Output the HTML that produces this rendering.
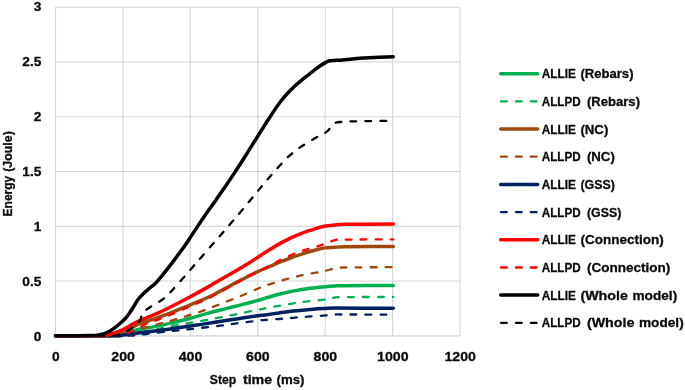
<!DOCTYPE html>
<html lang="en"><head><meta charset="utf-8"><title>Energy vs step time</title>
<style>html,body{margin:0;padding:0;background:#fff}body{width:685px;height:390px;overflow:hidden}svg{display:block}text{font-family:"Liberation Sans",sans-serif;font-weight:bold;font-size:13.7px;fill:#0a0a0a;stroke:#0a0a0a;stroke-width:.3px}.g{stroke:#d6d6d6;stroke-width:1.15;fill:none}.s{fill:none;stroke-linecap:round;stroke-linejoin:round}</style></head><body>
<svg width="685" height="390" viewBox="0 0 685 390">
<rect width="685" height="390" fill="#fff"/>
<path class="g" d="M55.5 7.2 V335.8M122.9 7.2 V335.8M190.3 7.2 V335.8M257.8 7.2 V335.8M325.2 7.2 V335.8M392.6 7.2 V335.8M460.0 7.2 V335.8M55.5 335.8 H460.0M55.5 281.0 H460.0M55.5 226.3 H460.0M55.5 171.5 H460.0M55.5 116.7 H460.0M55.5 62.0 H460.0M55.5 7.2 H460.0"/>
<path class="s" stroke="#00b050" stroke-width="3.5" d="M55.5 335.8C65.4 335.8 103.4 336.1 115.0 335.8C125.0 335.5 121.2 334.9 125.0 333.8C128.8 332.8 133.5 330.6 138.0 329.5C142.5 328.4 146.7 328.1 152.0 327.1C157.3 326.1 163.6 324.8 170.0 323.4C176.4 321.9 184.4 319.8 190.3 318.3C196.2 316.7 201.4 315.1 205.5 313.9C209.6 312.8 211.6 312.2 215.0 311.3C218.4 310.4 222.4 309.5 226.0 308.6C229.6 307.7 233.1 306.8 236.5 306.0C239.9 305.1 242.9 304.4 246.5 303.5C250.1 302.5 254.7 301.3 257.8 300.4C260.9 299.6 262.1 299.1 265.0 298.3C267.9 297.4 272.0 296.2 275.0 295.3C278.0 294.5 280.0 294.0 283.0 293.3C286.0 292.6 289.1 291.8 293.2 291.1C297.2 290.3 301.9 289.5 307.3 288.8C312.7 288.0 321.1 287.2 325.7 286.7C330.3 286.2 331.8 286.1 335.0 285.9C338.2 285.7 335.3 285.8 345.0 285.7C354.7 285.6 385.2 285.6 393.3 285.6"/>
<path class="s" stroke="#00b050" stroke-width="2.3" stroke-dasharray="5.8 9.1" stroke-dashoffset="1.8" d="M55.5 335.8C66.2 335.8 106.8 336.2 120.0 335.8C133.2 335.4 130.0 334.4 135.0 333.5C140.0 332.6 144.2 331.7 150.0 330.5C155.8 329.3 163.3 327.9 170.0 326.6C176.7 325.3 182.8 324.2 190.3 322.9C197.8 321.5 207.3 319.8 215.0 318.4C222.7 317.0 229.4 315.7 236.5 314.2C243.6 312.8 253.1 310.7 257.8 309.8C262.6 308.8 261.4 309.0 265.0 308.3C268.6 307.7 274.4 306.6 279.1 305.8C283.8 305.0 288.5 304.2 293.2 303.4C297.9 302.7 301.9 302.1 307.3 301.4C312.7 300.8 321.1 300.1 325.7 299.4C330.3 298.7 331.8 297.9 335.0 297.5C338.2 297.1 335.3 297.2 345.0 297.1C354.7 297.0 385.2 297.0 393.3 297.0"/>
<path class="s" stroke="#9e480e" stroke-width="3.5" d="M55.5 335.8C63.8 335.8 95.1 336.1 105.0 335.8C114.9 335.5 111.7 334.9 115.0 334.0C118.3 333.1 120.8 332.2 125.0 330.5C129.2 328.8 135.9 325.3 140.4 323.5C144.9 321.7 147.1 321.5 152.0 319.7C156.9 318.0 163.6 315.6 170.0 313.1C176.4 310.6 184.4 307.2 190.3 304.8C196.2 302.3 201.4 300.3 205.5 298.5C209.6 296.7 211.6 295.7 215.0 294.0C218.4 292.3 222.4 290.0 226.0 288.0C229.6 286.1 233.1 284.2 236.5 282.4C239.9 280.6 242.9 279.0 246.5 277.2C250.1 275.5 254.7 273.1 257.8 271.7C260.9 270.2 262.1 269.7 265.0 268.5C267.9 267.2 272.0 265.5 275.0 264.2C278.0 263.0 278.7 262.5 283.0 260.9C287.3 259.2 294.9 256.2 300.9 254.3C306.9 252.3 314.8 250.2 318.9 249.1C323.0 248.0 322.8 248.1 325.5 247.8C328.2 247.5 331.8 247.5 335.0 247.3C338.2 247.1 335.3 247.0 345.0 246.8C354.7 246.7 385.2 246.5 393.3 246.4"/>
<path class="s" stroke="#9e480e" stroke-width="2.3" stroke-dasharray="5.8 9.1" stroke-dashoffset="1.8" d="M55.5 335.8C65.4 335.8 102.6 336.3 115.0 335.8C127.4 335.3 124.8 334.4 130.0 333.0C135.2 331.6 140.8 328.9 146.0 327.3C151.2 325.7 157.0 324.4 161.0 323.4C165.0 322.3 165.1 322.3 170.0 320.9C174.9 319.5 184.4 316.8 190.3 314.9C196.2 313.1 201.4 311.3 205.5 309.8C209.6 308.3 211.6 307.4 215.0 306.1C218.4 304.8 222.4 303.2 226.0 301.8C229.6 300.4 233.1 299.1 236.5 297.7C239.9 296.3 242.9 295.1 246.5 293.6C250.1 292.1 254.7 290.0 257.8 288.7C260.9 287.4 262.1 286.8 265.0 285.8C267.9 284.8 272.0 283.5 275.0 282.5C278.0 281.6 278.8 281.2 283.0 280.1C287.2 279.0 294.3 277.1 300.3 275.7C306.3 274.4 314.7 272.9 318.9 272.1C323.1 271.3 322.9 271.4 325.6 270.8C328.3 270.2 331.8 268.9 335.0 268.3C338.2 267.8 335.3 267.7 345.0 267.5C354.7 267.3 385.2 267.2 393.3 267.2"/>
<path class="s" stroke="#002060" stroke-width="3.5" d="M55.5 335.8C65.9 335.8 106.8 335.9 118.0 335.8C123.0 335.7 120.2 335.4 123.0 335.0C125.8 334.6 131.2 334.0 135.0 333.5C138.8 333.0 142.3 332.5 146.0 332.0C149.7 331.5 153.0 331.2 157.0 330.7C161.0 330.2 164.4 329.8 170.0 329.0C175.6 328.3 182.8 327.3 190.3 326.1C197.8 325.0 207.3 323.5 215.0 322.3C222.7 321.1 229.4 320.0 236.5 318.9C243.6 317.8 253.1 316.5 257.8 315.8C262.6 315.2 261.4 315.4 265.0 314.9C268.6 314.4 274.4 313.6 279.1 312.9C283.8 312.3 288.5 311.6 293.2 311.1C297.9 310.5 301.9 310.1 307.3 309.7C312.7 309.2 321.1 308.7 325.7 308.4C330.3 308.1 325.7 308.1 335.0 308.1C346.3 308.1 383.6 308.2 393.3 308.2"/>
<path class="s" stroke="#002060" stroke-width="2.3" stroke-dasharray="5.8 9.1" stroke-dashoffset="1.8" d="M55.5 335.8C67.1 335.8 109.9 336.1 125.0 335.8C140.1 335.5 138.5 334.8 146.0 334.0C153.5 333.2 162.6 332.0 170.0 331.2C177.4 330.4 182.0 330.0 190.3 329.1C198.6 328.2 212.3 326.6 220.0 325.7C227.7 324.7 230.2 324.2 236.5 323.4C242.8 322.5 253.1 321.2 257.8 320.6C262.6 320.0 261.4 320.3 265.0 320.0C268.6 319.7 274.4 319.3 279.1 319.0C283.8 318.6 288.5 318.2 293.2 317.8C297.9 317.4 301.9 317.0 307.3 316.7C312.7 316.3 321.1 315.8 325.7 315.4C330.3 315.0 331.8 314.6 335.0 314.5C338.2 314.4 335.3 314.5 345.0 314.5C354.7 314.5 385.2 314.6 393.3 314.6"/>
<path class="s" stroke="#ff0000" stroke-width="3.5" d="M55.5 335.8C62.9 335.8 91.3 335.9 100.0 335.8C107.5 335.7 105.0 335.6 107.5 335.1C110.0 334.6 112.4 333.7 115.0 332.8C117.6 331.9 119.7 331.2 123.0 329.6C126.3 328.0 130.8 324.9 134.6 323.0C138.4 321.1 142.2 319.6 146.0 318.0C149.8 316.4 153.7 315.0 157.7 313.2C161.7 311.4 164.6 310.1 170.0 307.3C175.4 304.6 184.4 299.9 190.3 296.8C196.2 293.6 201.4 290.7 205.5 288.4C209.6 286.0 211.6 284.8 215.0 282.8C218.4 280.8 222.4 278.5 226.0 276.5C229.6 274.4 233.1 272.4 236.5 270.4C239.9 268.4 242.9 266.6 246.5 264.4C250.1 262.2 254.7 259.3 257.8 257.3C260.9 255.4 260.8 255.2 265.0 252.6C269.2 250.1 277.0 245.0 283.0 241.9C289.0 238.7 294.9 236.0 300.9 233.7C306.9 231.3 314.8 228.9 318.9 227.6C323.0 226.3 322.8 226.5 325.5 226.1C328.2 225.7 331.8 225.2 335.0 224.9C338.2 224.6 335.3 224.5 345.0 224.3C354.7 224.2 385.2 224.1 393.3 224.0"/>
<path class="s" stroke="#ff0000" stroke-width="2.3" stroke-dasharray="5.8 9.1" stroke-dashoffset="1.8" d="M55.5 335.8C64.6 335.8 99.2 336.0 110.0 335.8C120.0 335.6 116.5 335.1 120.0 334.5C123.5 333.9 126.7 333.6 131.0 331.9C135.3 330.1 141.6 326.0 146.0 324.0C150.4 322.0 153.7 321.3 157.7 319.8C161.7 318.2 164.6 317.1 170.0 314.9C175.4 312.6 184.4 308.8 190.3 306.3C196.2 303.7 201.4 301.5 205.5 299.6C209.6 297.6 211.6 296.6 215.0 294.8C218.4 293.0 222.4 290.7 226.0 288.7C229.6 286.6 233.1 284.6 236.5 282.8C239.9 280.9 242.9 279.3 246.5 277.5C250.1 275.6 254.7 273.2 257.8 271.6C260.9 270.0 262.1 269.4 265.0 268.0C267.9 266.5 272.0 264.4 275.0 262.9C278.0 261.3 278.7 260.7 283.0 258.8C287.3 256.9 294.9 253.4 300.9 251.3C306.9 249.1 314.8 247.2 318.9 245.9C323.0 244.6 322.8 244.7 325.5 243.7C328.2 242.7 332.1 240.8 335.0 240.1C337.9 239.4 335.0 239.7 343.0 239.6C352.7 239.5 384.9 239.4 393.3 239.4"/>
<path class="s" stroke="#000000" stroke-width="3.5" d="M55.5 335.8C61.2 335.8 82.5 335.8 90.0 335.6C97.5 335.4 97.7 335.0 100.3 334.6C102.9 334.2 103.8 333.8 105.5 333.2C107.2 332.6 108.8 331.8 110.5 330.8C112.2 329.8 113.9 328.5 115.6 327.2C117.3 325.9 119.0 324.4 120.8 322.8C122.6 321.2 124.7 319.2 126.2 317.5C127.7 315.8 129.0 313.8 130.0 312.3C131.0 310.9 131.4 310.2 132.3 308.8C133.2 307.4 134.2 305.6 135.2 304.0C136.2 302.4 136.7 301.3 138.1 299.5C139.5 297.7 141.9 295.2 143.8 293.3C145.7 291.4 147.7 289.7 149.6 288.1C151.5 286.5 153.3 285.5 155.3 283.5C157.3 281.5 158.5 279.9 161.5 276.3C164.5 272.6 169.2 266.6 173.1 261.6C176.9 256.5 181.9 249.7 184.6 245.9C187.3 242.2 187.1 242.3 189.2 239.2C191.3 236.0 194.3 231.3 197.1 227.1C199.9 222.9 202.8 218.6 206.0 214.0C209.2 209.4 213.0 204.2 216.3 199.4C219.6 194.6 222.8 190.1 226.0 185.4C229.2 180.8 232.5 175.9 235.3 171.6C238.1 167.3 239.3 165.5 243.0 159.7C246.7 153.8 253.3 143.4 257.6 136.5C261.9 129.6 266.1 122.9 269.0 118.5C271.9 114.0 272.8 112.6 274.8 109.6C276.8 106.7 279.1 103.5 281.2 100.8C283.3 98.0 285.5 95.5 287.6 93.2C289.8 90.8 292.0 88.7 294.1 86.7C296.2 84.7 298.4 83.0 300.5 81.2C302.6 79.3 304.8 77.6 307.0 75.9C309.2 74.1 311.2 72.5 313.5 70.8C315.8 69.1 318.6 66.9 320.6 65.5C322.6 64.1 323.9 63.4 325.4 62.6C326.9 61.8 328.0 61.2 329.6 60.8C331.2 60.4 333.3 60.5 335.0 60.4C336.7 60.3 336.4 60.5 340.0 60.2C343.6 59.9 350.9 59.1 356.7 58.6C362.5 58.1 368.9 57.8 375.0 57.5C381.1 57.2 390.2 56.9 393.2 56.8"/>
<path class="s" stroke="#000000" stroke-width="2.3" stroke-dasharray="5.8 9.1" stroke-dashoffset="1.8" d="M55.5 335.8C64.6 335.8 99.0 336.2 110.0 335.8C121.0 335.4 117.9 334.7 121.5 333.5C125.1 332.3 128.8 330.2 131.5 328.5C134.2 326.8 135.9 325.1 137.5 323.5C139.1 321.9 140.0 320.6 140.8 318.8C141.6 317.1 140.9 315.0 142.5 313.0C144.1 311.0 146.7 309.5 150.3 307.0C153.9 304.5 159.8 301.8 164.2 298.2C168.6 294.6 171.7 290.7 176.5 285.5C181.3 280.2 189.0 271.3 193.0 266.7C197.0 262.1 197.5 261.5 200.7 257.9C203.8 254.3 208.3 249.1 211.9 245.0C215.5 240.9 218.7 237.3 222.3 233.2C225.9 229.1 229.1 225.5 233.5 220.3C237.9 215.1 244.8 206.9 248.8 202.0C252.8 197.2 254.4 195.2 257.7 191.2C260.9 187.3 263.5 184.0 268.3 178.5C273.1 173.0 281.4 163.5 286.7 158.3C292.0 153.1 295.0 150.9 300.0 147.4C305.0 143.9 312.1 140.0 316.7 137.3C321.3 134.6 324.9 133.3 327.5 131.2C330.1 129.1 330.4 126.0 332.5 124.5C334.6 123.0 335.4 122.5 340.0 122.0C344.6 121.5 351.1 121.4 360.0 121.2C368.9 121.0 387.8 120.9 393.3 120.8"/>
<text x="41.3" y="340.8" text-anchor="end">0</text>
<text x="41.3" y="285.9" text-anchor="end">0.5</text>
<text x="41.3" y="231.0" text-anchor="end">1</text>
<text x="41.3" y="176.1" text-anchor="end">1.5</text>
<text x="41.3" y="121.1" text-anchor="end">2</text>
<text x="41.3" y="66.2" text-anchor="end">2.5</text>
<text x="41.3" y="11.3" text-anchor="end">3</text>
<text x="55.7" y="360.8" text-anchor="middle">0</text>
<text x="123.1" y="360.8" text-anchor="middle" textLength="23.6" lengthAdjust="spacingAndGlyphs">200</text>
<text x="190.5" y="360.8" text-anchor="middle" textLength="23.6" lengthAdjust="spacingAndGlyphs">400</text>
<text x="257.9" y="360.8" text-anchor="middle" textLength="23.6" lengthAdjust="spacingAndGlyphs">600</text>
<text x="325.4" y="360.8" text-anchor="middle" textLength="23.6" lengthAdjust="spacingAndGlyphs">800</text>
<text x="392.8" y="360.8" text-anchor="middle" textLength="31.5" lengthAdjust="spacingAndGlyphs">1000</text>
<text x="460.2" y="360.8" text-anchor="middle" textLength="31.5" lengthAdjust="spacingAndGlyphs">1200</text>
<text y="384"><tspan x="209.8" textLength="26.4" lengthAdjust="spacingAndGlyphs">Step</tspan> <tspan x="242.9" textLength="29.3" lengthAdjust="spacingAndGlyphs">time</tspan> <tspan x="276.5" textLength="28" lengthAdjust="spacingAndGlyphs">(ms)</tspan></text>
<text transform="translate(12.2 173.8) rotate(-90)" y="0"><tspan x="-42.6" textLength="40.6" lengthAdjust="spacingAndGlyphs">Energy</tspan> <tspan x="2" textLength="40.6" lengthAdjust="spacingAndGlyphs">(Joule)</tspan></text>
<path class="s" stroke="#00b050" stroke-width="3.5" d="M500.7 73.7H537.7"/>
<text y="78.25"><tspan x="541.8" textLength="34.2" lengthAdjust="spacingAndGlyphs">ALLIE</tspan> <tspan x="580.4" textLength="53.1" lengthAdjust="spacingAndGlyphs">(Rebars)</tspan></text>
<path class="s" stroke="#00b050" stroke-width="2.3" stroke-dasharray="5.8 9.1" d="M501.0 101.4H538.0"/>
<text y="105.93"><tspan x="541.8" textLength="38.9" lengthAdjust="spacingAndGlyphs">ALLPD</tspan> <tspan x="586.9" textLength="53.1" lengthAdjust="spacingAndGlyphs">(Rebars)</tspan></text>
<path class="s" stroke="#9e480e" stroke-width="3.5" d="M500.7 129.1H537.7"/>
<text y="133.61"><tspan x="541.8" textLength="34.2" lengthAdjust="spacingAndGlyphs">ALLIE</tspan> <tspan x="580.4" textLength="27.9" lengthAdjust="spacingAndGlyphs">(NC)</tspan></text>
<path class="s" stroke="#9e480e" stroke-width="2.3" stroke-dasharray="5.8 9.1" d="M501.0 156.7H538.0"/>
<text y="161.29"><tspan x="541.8" textLength="38.9" lengthAdjust="spacingAndGlyphs">ALLPD</tspan> <tspan x="586.9" textLength="27.9" lengthAdjust="spacingAndGlyphs">(NC)</tspan></text>
<path class="s" stroke="#002060" stroke-width="3.5" d="M500.7 184.4H537.7"/>
<text y="188.97"><tspan x="541.8" textLength="34.2" lengthAdjust="spacingAndGlyphs">ALLIE</tspan> <tspan x="580.4" textLength="34.4" lengthAdjust="spacingAndGlyphs">(GSS)</tspan></text>
<path class="s" stroke="#002060" stroke-width="2.3" stroke-dasharray="5.8 9.1" d="M501.0 212.1H538.0"/>
<text y="216.65"><tspan x="541.8" textLength="38.9" lengthAdjust="spacingAndGlyphs">ALLPD</tspan> <tspan x="586.9" textLength="34.4" lengthAdjust="spacingAndGlyphs">(GSS)</tspan></text>
<path class="s" stroke="#ff0000" stroke-width="3.5" d="M500.7 239.8H537.7"/>
<text y="244.33"><tspan x="541.8" textLength="34.2" lengthAdjust="spacingAndGlyphs">ALLIE</tspan> <tspan x="580.4" textLength="83.3" lengthAdjust="spacingAndGlyphs">(Connection)</tspan></text>
<path class="s" stroke="#ff0000" stroke-width="2.3" stroke-dasharray="5.8 9.1" d="M501.0 267.5H538.0"/>
<text y="272.01"><tspan x="541.8" textLength="38.9" lengthAdjust="spacingAndGlyphs">ALLPD</tspan> <tspan x="586.9" textLength="83.3" lengthAdjust="spacingAndGlyphs">(Connection)</tspan></text>
<path class="s" stroke="#000000" stroke-width="3.5" d="M500.7 295.1H537.7"/>
<text y="299.69"><tspan x="541.8" textLength="34.2" lengthAdjust="spacingAndGlyphs">ALLIE</tspan> <tspan x="580.4" textLength="47.6" lengthAdjust="spacingAndGlyphs">(Whole</tspan> <tspan x="632.5" textLength="44.7" lengthAdjust="spacingAndGlyphs">model)</tspan></text>
<path class="s" stroke="#000000" stroke-width="2.3" stroke-dasharray="5.8 9.1" d="M501.0 322.8H538.0"/>
<text y="327.37"><tspan x="541.8" textLength="38.9" lengthAdjust="spacingAndGlyphs">ALLPD</tspan> <tspan x="586.9" textLength="47.6" lengthAdjust="spacingAndGlyphs">(Whole</tspan> <tspan x="639.0" textLength="44.7" lengthAdjust="spacingAndGlyphs">model)</tspan></text>
</svg></body></html>
